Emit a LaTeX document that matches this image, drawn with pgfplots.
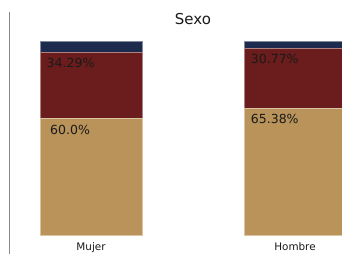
\documentclass[border=0pt]{standalone}
\usepackage{fontspec}
\setmainfont{DejaVu Sans}
\usepackage{pgfplots}
\pgfplotsset{compat=1.18}
\definecolor{cnavy}{HTML}{1C2A4E}
\definecolor{cred}{HTML}{6B1C1C}
\definecolor{ctan}{HTML}{B99359}
\definecolor{cspine}{HTML}{8A8A8A}
\definecolor{ctext}{HTML}{1A1A1A}
\tikzset{vlab/.style={font=\fontsize{12.5}{14}\selectfont, text=ctext, anchor=west, inner sep=0pt}}
\begin{document}
\begin{tikzpicture}
\path[use as bounding box] (0pt,0pt) rectangle (342pt,254pt);
\begin{axis}[
  at={(9pt,0pt)}, anchor=south west,
  scale only axis, width=333pt, height=242pt,
  xmin=-0.402, xmax=1.2304,
  ymin=-9.84, ymax=115,
  axis x line=none,
  axis y line*=left,
  y axis line style={draw=cspine, line width=0.9pt, -},
  xtick=\empty, ytick=\empty,
  ybar stacked, bar width=0.5,
  clip mode=individual,
  after end axis/.code={
    \node[font=\fontsize{15}{18}\selectfont, text=ctext] at (axis cs:0.5,111.3) {Sexo};
    \node[vlab] at (axis cs:-0.218,88.6) {34.29\%};
    \node[vlab] at (axis cs:-0.201,54.4) {60.0\%};
    \node[vlab] at (axis cs:0.783,90.7) {30.77\%};
    \node[vlab] at (axis cs:0.783,59.6) {65.38\%};
    \node[font=\fontsize{10.4}{12}\selectfont, text=ctext, anchor=base, inner sep=0pt] at (axis cs:0,-7.8) {Mujer};
    \node[font=\fontsize{10.4}{12}\selectfont, text=ctext, anchor=base, inner sep=0pt] at (axis cs:1,-7.8) {Hombre};
  },
]
\addplot[fill=ctan, draw=white!45!ctan, line width=0.3pt] coordinates {(0,60.0) (1,65.38)};
\addplot[fill=cred, draw=white!45!cred, line width=0.3pt] coordinates {(0,34.29) (1,30.77)};
\addplot[fill=cnavy, draw=white!45!cnavy, line width=0.3pt] coordinates {(0,5.71) (1,3.85)};
\end{axis}
\end{tikzpicture}
\end{document}
